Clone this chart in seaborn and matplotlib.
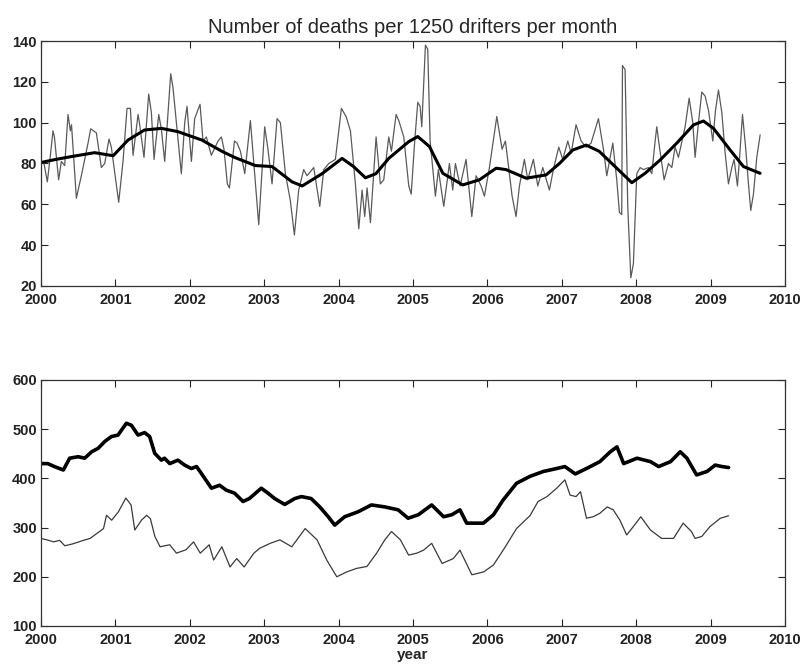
import numpy as np
import pandas as pd
import seaborn as sns
import matplotlib.pyplot as plt

sns.set_style("ticks")
plt.rcParams['font.family'] = ['Liberation Sans', 'DejaVu Sans']

# --- top panel: deaths per 1250 drifters per month (raw + smoothed) ---
top_raw_year = [2000.00, 2000.04, 2000.085, 2000.12, 2000.161, 2000.18, 2000.237, 2000.273, 2000.318, 2000.363,
                2000.394, 2000.41, 2000.475, 2000.542, 2000.632, 2000.668, 2000.744, 2000.780, 2000.811, 2000.856,
                2000.914, 2000.945, 2001.044, 2001.102, 2001.156, 2001.201, 2001.237, 2001.304, 2001.326, 2001.384,
                2001.447, 2001.483, 2001.519, 2001.582, 2001.617, 2001.662, 2001.743, 2001.774, 2001.886, 2001.931,
                2001.962, 2002.021, 2002.065, 2002.137, 2002.177, 2002.222, 2002.289, 2002.379, 2002.424, 2002.459,
                2002.504, 2002.532, 2002.600, 2002.635, 2002.680, 2002.738, 2002.814, 2002.845, 2002.926, 2003.006,
                2003.050, 2003.105, 2003.172, 2003.217, 2003.284, 2003.350, 2003.405, 2003.463, 2003.530, 2003.575,
                2003.665, 2003.746, 2003.800, 2003.867, 2003.956, 2004.037, 2004.100, 2004.158, 2004.225, 2004.270,
                2004.315, 2004.350, 2004.382, 2004.427, 2004.503, 2004.560, 2004.606, 2004.673, 2004.709, 2004.772,
                2004.808, 2004.875, 2004.942, 2004.975, 2005.020, 2005.063, 2005.094, 2005.117, 2005.166, 2005.197,
                2005.229, 2005.300, 2005.340, 2005.412, 2005.453, 2005.488, 2005.533, 2005.569, 2005.632, 2005.712,
                2005.789, 2005.847, 2005.914, 2005.959, 2006.026, 2006.125, 2006.196, 2006.241, 2006.331, 2006.384,
                2006.429, 2006.496, 2006.541, 2006.617, 2006.676, 2006.743, 2006.832, 2006.891, 2006.958, 2007.012,
                2007.079, 2007.124, 2007.190, 2007.258, 2007.325, 2007.392, 2007.491, 2007.558, 2007.603, 2007.684,
                2007.737, 2007.773, 2007.804, 2007.814, 2007.849, 2007.885, 2007.926, 2007.961, 2008.006, 2008.051,
                2008.096, 2008.163, 2008.208, 2008.253, 2008.275, 2008.311, 2008.374, 2008.432, 2008.477, 2008.521,
                2008.566, 2008.656, 2008.710, 2008.759, 2008.790, 2008.835, 2008.880, 2008.925, 2008.970, 2009.028,
                2009.064, 2009.104, 2009.149, 2009.194, 2009.238, 2009.283, 2009.314, 2009.359, 2009.386, 2009.427,
                2009.471, 2009.507, 2009.538, 2009.574, 2009.619, 2009.664]
top_raw_val = [81, 80, 71, 82, 96, 93, 72, 81, 79, 104,
               96, 99, 63, 74, 90, 97, 95, 86, 78, 80,
               92, 88, 61, 81, 107, 107, 84, 104, 99, 83,
               114, 105, 82, 104, 97, 81, 124, 117, 75, 100,
               108, 81, 102, 109, 91, 93, 84, 91, 93, 87,
               70, 68, 91, 90, 86, 75, 101, 87, 50, 98,
               87, 70, 102, 100, 75, 62, 45, 67, 77, 74,
               78, 59, 77, 80, 82, 107, 103, 96, 70, 48,
               67, 54, 68, 51, 93, 70, 72, 93, 86, 104,
               101, 93, 69, 65, 90, 110, 108, 98, 138, 136,
               91, 64, 77, 59, 70, 80, 67, 80, 69, 82,
               54, 74, 69, 64, 78, 103, 87, 91, 64, 54,
               69, 82, 72, 82, 69, 78, 67, 78, 88, 82,
               91, 85, 99, 91, 88, 90, 102, 87, 74, 90,
               72, 56, 55, 128, 126, 59, 24, 31, 75, 78,
               77, 78, 75, 91, 98, 88, 72, 80, 78, 88,
               83, 98, 112, 100, 83, 100, 115, 113, 106, 91,
               106, 116, 105, 85, 70, 78, 82, 69, 82, 104,
               87, 70, 57, 65, 83, 94]

top_smooth_year = [2000.0, 2000.2, 2000.41, 2000.72, 2000.97, 2001.17, 2001.39, 2001.62, 2001.84, 2002.16,
                   2002.43, 2002.6, 2002.88, 2003.105, 2003.374, 2003.51, 2003.777, 2004.046, 2004.2, 2004.36,
                   2004.5, 2004.673, 2004.942, 2005.063, 2005.22, 2005.4, 2005.667, 2005.891, 2006.116, 2006.25,
                   2006.519, 2006.788, 2006.967, 2007.146, 2007.325, 2007.5, 2007.737, 2007.939, 2008.118, 2008.32,
                   2008.544, 2008.768, 2008.902, 2009.037, 2009.261, 2009.44, 2009.664]
top_smooth_val = [80.5, 82, 83.4, 85.3, 83.8, 91.5, 96.4, 97.2, 95.6, 91.5,
                  86, 83, 79, 78.5, 71, 69, 75, 82.5, 78.5, 73,
                  75, 82.5, 90.7, 93.2, 88.3, 75.2, 69.5, 72, 77.7, 77,
                  72.8, 74.4, 80, 86.6, 89, 86, 77.7, 70.6, 75.2, 81.7,
                  90, 98.9, 100.8, 97.2, 86.6, 78.5, 75.2]

# --- bottom panel: two cumulative-style series ---
bot_thick_year = [2000.0, 2000.09, 2000.18, 2000.30, 2000.385, 2000.50, 2000.587, 2000.68, 2000.767, 2000.857,
                  2000.946, 2001.035, 2001.10, 2001.147, 2001.214, 2001.304, 2001.393, 2001.46, 2001.528, 2001.617,
                  2001.66, 2001.73, 2001.84, 2001.93, 2002.02, 2002.09, 2002.155, 2002.29, 2002.40, 2002.49,
                  2002.60, 2002.715, 2002.80, 2002.96, 2003.05, 2003.14, 2003.275, 2003.41, 2003.50, 2003.63,
                  2003.746, 2003.86, 2003.947, 2004.08, 2004.26, 2004.44, 2004.62, 2004.80, 2004.933, 2005.07,
                  2005.25, 2005.41, 2005.52, 2005.63, 2005.72, 2005.945, 2006.08, 2006.21, 2006.39, 2006.57,
                  2006.75, 2006.93, 2007.04, 2007.18, 2007.33, 2007.51, 2007.65, 2007.74, 2007.83, 2008.01,
                  2008.19, 2008.30, 2008.46, 2008.59, 2008.68, 2008.81, 2008.95, 2009.06, 2009.15, 2009.24]
bot_thick_val = [430, 430, 424, 417, 441, 444, 441, 454, 461, 475,
                 485, 488, 502, 512, 508, 488, 493, 485, 451, 437,
                 441, 430, 437, 427, 420, 424, 410, 380, 386, 376,
                 370, 353, 359, 380, 370, 359, 347, 359, 363, 359,
                 342, 322, 305, 322, 332, 346, 342, 336, 319, 326,
                 346, 322, 326, 336, 309, 309, 326, 356, 390, 404,
                 414, 420, 424, 409, 420, 434, 454, 464, 430, 441,
                 434, 424, 434, 454, 441, 407, 414, 427, 424, 422]

bot_thin_year = [2000.0, 2000.08, 2000.17, 2000.25, 2000.32, 2000.43, 2000.57, 2000.66, 2000.75, 2000.84,
                 2000.88, 2000.95, 2001.04, 2001.14, 2001.21, 2001.26, 2001.35, 2001.42, 2001.47, 2001.53,
                 2001.6, 2001.73, 2001.82, 2001.95, 2002.05, 2002.14, 2002.26, 2002.32, 2002.43, 2002.54,
                 2002.63, 2002.73, 2002.86, 2002.94, 2003.08, 2003.21, 2003.37, 2003.55, 2003.71, 2003.84,
                 2003.975, 2004.11, 2004.24, 2004.38, 2004.51, 2004.62, 2004.71, 2004.83, 2004.94, 2005.05,
                 2005.14, 2005.25, 2005.39, 2005.54, 2005.63, 2005.79, 2005.95, 2006.08, 2006.24, 2006.39,
                 2006.57, 2006.68, 2006.80, 2006.93, 2007.04, 2007.11, 2007.19, 2007.25, 2007.33, 2007.42,
                 2007.51, 2007.61, 2007.69, 2007.78, 2007.87, 2007.96, 2008.06, 2008.19, 2008.34, 2008.50,
                 2008.63, 2008.74, 2008.79, 2008.88, 2008.99, 2009.13, 2009.24]
bot_thin_val = [278, 275, 271, 274, 263, 267, 274, 278, 288, 298,
                325, 315, 332, 360, 346, 295, 315, 325, 318, 282,
                261, 265, 248, 255, 271, 248, 265, 234, 261, 220,
                237, 220, 248, 258, 268, 275, 261, 298, 275, 234,
                200, 210, 217, 221, 248, 275, 292, 275, 244, 248,
                254, 268, 227, 237, 254, 204, 210, 224, 261, 298,
                324, 353, 363, 380, 397, 366, 363, 373, 319, 322,
                329, 342, 336, 315, 285, 302, 322, 295, 278, 278,
                309, 292, 278, 282, 302, 319, 324]

fig = plt.figure(figsize=(8.01, 6.68), dpi=100)
ax1 = fig.add_axes([0.0512, 0.5719, 0.929, 0.3667])
ax2 = fig.add_axes([0.0512, 0.0629, 0.929, 0.3683])

sns.lineplot(x=top_raw_year, y=top_raw_val, ax=ax1, color='#5a5a5a', lw=0.9,
             estimator=None, sort=False)
sns.lineplot(x=top_smooth_year, y=top_smooth_val, ax=ax1, color='black', lw=2.2,
             estimator=None, sort=False)
sns.lineplot(x=bot_thick_year, y=bot_thick_val, ax=ax2, color='black', lw=2.6,
             estimator=None, sort=False)
sns.lineplot(x=bot_thin_year, y=bot_thin_val, ax=ax2, color='#3a3a3a', lw=0.9,
             estimator=None, sort=False)

ax1.set_xlim(2000, 2010)
ax1.set_ylim(20, 140)
ax1.set_yticks(range(20, 141, 20))
ax2.set_xlim(2000, 2010)
ax2.set_ylim(100, 600)
ax2.set_yticks(range(100, 601, 100))

for ax in (ax1, ax2):
    ax.set_xticks(range(2000, 2011))
    ax.tick_params(direction='in', top=True, right=True, length=5, width=0.8,
                   labelsize=10.5, colors='#222222')
    ax.tick_params(axis='x', pad=5)
    ax.tick_params(axis='y', pad=3)
    for s in ax.spines.values():
        s.set_linewidth(0.9)
        s.set_color('#333333')
        s.set_visible(True)
    plt.setp(ax.get_xticklabels() + ax.get_yticklabels(), fontweight='bold')
    ax.set_xlabel('')
    ax.set_ylabel('')

ax1.set_title('Number of deaths per 1250 drifters per month', fontsize=14.5, pad=6)
ax2.set_xlabel('year', fontsize=11, fontweight='bold', labelpad=1)

fig.savefig('out.png', dpi=100)
